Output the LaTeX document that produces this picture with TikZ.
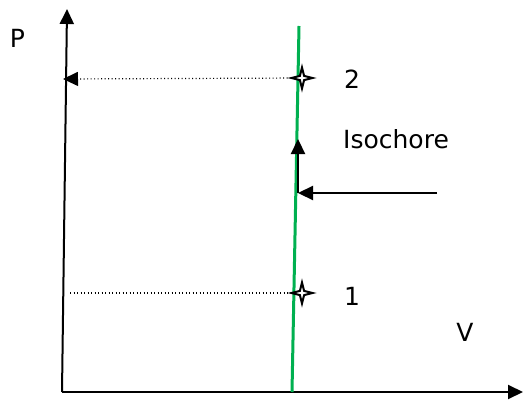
\documentclass[tikz,border=0pt]{standalone}
\usepackage{fontspec}
\setmainfont{DejaVu Sans}
\usetikzlibrary{arrows.meta,shapes.geometric}
\definecolor{iso}{HTML}{00B050}
\tikzset{axis/.style={-{Triangle[length=15pt,width=14pt]},line width=2pt},guide/.style={line width=1.2pt,dash pattern=on 1pt off 2.5pt},statept/.style={star,star points=4,star point ratio=3.5,draw=black,fill=white,line width=2pt,minimum size=21pt,inner sep=0pt},lab/.style={font=\fontsize{25}{29}\selectfont,inner sep=0pt}}

\begin{document}
\begin{tikzpicture}[x=1pt,y=-1pt]
\useasboundingbox (0,0) rectangle (524,401);
\coordinate (o) at (62,392);
\coordinate (ytop) at (67,9);
\coordinate (xend) at (523,392);
\coordinate (gb) at (292,392);
\coordinate (gt) at (299,26);
\coordinate (h1) at (70,293);
\coordinate (h2) at (63,79);
\coordinate (kb) at (298,193);
\coordinate (kt) at (298,139);
\coordinate (ke) at (437,193);
\draw[axis](o)--(ytop);\draw[axis](o)--(xend);
\draw[iso,line width=3pt](gb)--(gt);
\node[statept] (p2) at (302,78) {};
\node[statept] (p1) at (302,293) {};
\draw[guide,-{Triangle[length=15pt,width=14pt]}](p2)--(h2);\draw[guide](h1)--(p1);
\draw[axis,line width=2.2pt](kb)--(kt);\draw[axis,line width=2.2pt](ke)--(kb);
\node[lab] (lp) at (17.5,38.5) {P};
\node[lab] (lv) at (465,332) {V};
\node[lab] (l1) at (352,296) {1};
\node[lab] (l2) at (352,79) {2};
\node[lab] (li) at (396,139) {Isochore};
\end{tikzpicture}
\end{document}
